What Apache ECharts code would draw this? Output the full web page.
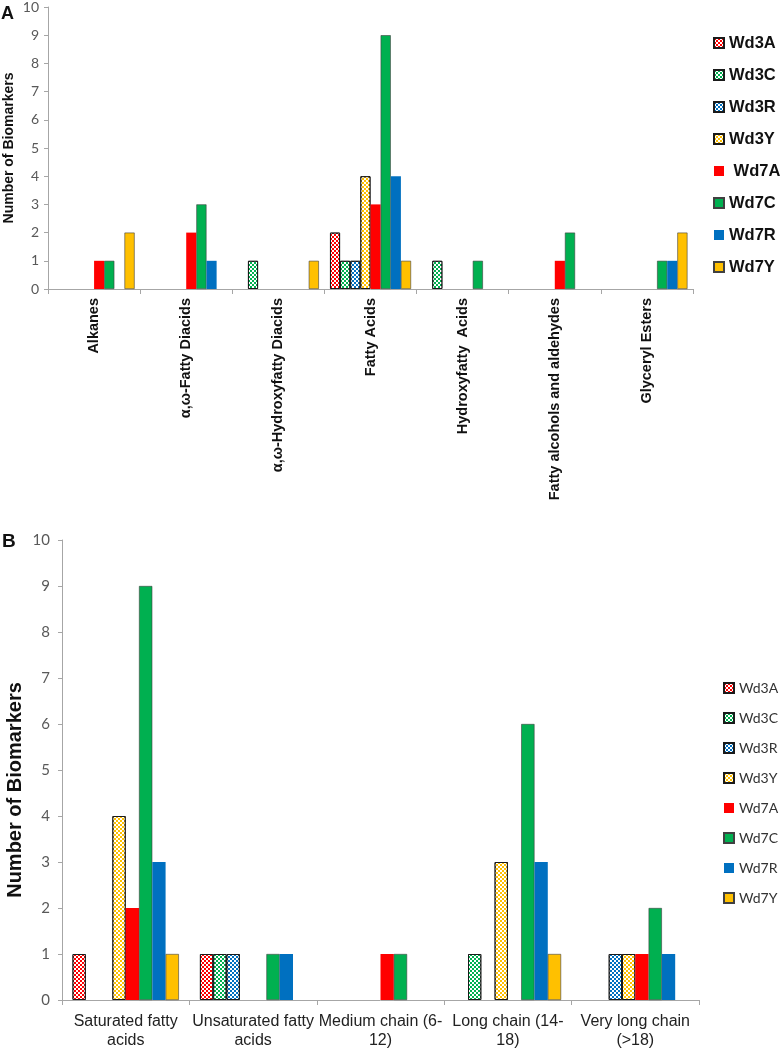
<!DOCTYPE html>
<html>
<head>
<meta charset="utf-8">
<script src="https://cdn.jsdelivr.net/npm/echarts@6/dist/echarts.min.js"></script>
<style>
html,body{margin:0;padding:0;background:#fff;}
#c{width:782px;height:1050px;}
</style>
</head>
<body>
<div id="c"></div>
<script>
// ---- data ----
const seriesNames = ['Wd3A','Wd3C','Wd3R','Wd3Y','Wd7A','Wd7C','Wd7R','Wd7Y'];
const legendLabelsA = ['Wd3A','Wd3C','Wd3R','Wd3Y',' Wd7A','Wd7C','Wd7R','Wd7Y'];
const legendLabelsB = ['Wd3A','Wd3C','Wd3R','Wd3Y','Wd7A','Wd7C','Wd7R','Wd7Y'];
const categoriesA = ['Alkanes','α,ω-Fatty Diacids','α,ω-Hydroxyfatty Diacids','Fatty Acids','Hydroxyfatty  Acids','Fatty alcohols and aldehydes','Glyceryl Esters'];
const categoriesB = ['Saturated fatty\nacids','Unsaturated fatty\nacids','Medium chain (6-\n12)','Long chain (14-\n18)','Very long chain\n(>18)'];
const yTicks = [0,1,2,3,4,5,6,7,8,9,10];

const valuesA_Wd3A = [0,0,0,2,0,0,0];
const valuesA_Wd3C = [0,0,1,1,1,0,0];
const valuesA_Wd3R = [0,0,0,1,0,0,0];
const valuesA_Wd3Y = [0,0,0,4,0,0,0];
const valuesA_Wd7A = [1,2,0,3,0,1,0];
const valuesA_Wd7C = [1,3,0,9,1,2,1];
const valuesA_Wd7R = [0,1,0,4,0,0,1];
const valuesA_Wd7Y = [2,0,1,1,0,0,2];

const valuesB_Wd3A = [1,1,0,0,0];
const valuesB_Wd3C = [0,1,0,1,0];
const valuesB_Wd3R = [0,1,0,0,1];
const valuesB_Wd3Y = [4,0,0,3,1];
const valuesB_Wd7A = [2,0,1,0,1];
const valuesB_Wd7C = [9,1,1,6,2];
const valuesB_Wd7R = [3,1,0,3,1];
const valuesB_Wd7Y = [1,0,0,1,0];

const valuesA = [valuesA_Wd3A,valuesA_Wd3C,valuesA_Wd3R,valuesA_Wd3Y,valuesA_Wd7A,valuesA_Wd7C,valuesA_Wd7R,valuesA_Wd7Y];
const valuesB = [valuesB_Wd3A,valuesB_Wd3C,valuesB_Wd3R,valuesB_Wd3Y,valuesB_Wd7A,valuesB_Wd7C,valuesB_Wd7R,valuesB_Wd7Y];

// ---- styles ----
const colors = ['#FF0000','#00B050','#0070C0','#FFC000','#FF0000','#00B050','#0070C0','#FFC000'];
const checkered = [true,true,true,true,false,false,false,false];
const checkDecal = {symbol:'rect', symbolSize:1, color:'#ffffff', dashArrayX:[[2,2],[0,2,2,0]], dashArrayY:[2,0]};
const plainBorderA = [null,null,null,null,0,0.6,0,0.6];
const plainBorderB = [null,null,null,null,0,0.6,0,0.6];

function itemStyleFor(i, plainBorder){
  if (checkered[i]) {
    return {color: colors[i], borderColor:'#1a1a1a', borderWidth:1, decal: checkDecal};
  }
  return {color: colors[i], borderColor:'#404040', borderWidth: plainBorder[i]};
}

const series = [];
seriesNames.forEach((n,i)=>{
  series.push({
    name: 'A:' + legendLabelsA[i], type:'bar', xAxisIndex:0, yAxisIndex:0,
    data: valuesA[i].map(v => v === 0 ? null : v),
    barGap: '0%', barCategoryGap: '12%',
    itemStyle: itemStyleFor(i, plainBorderA),
    emphasis:{disabled:true}
  });
});
seriesNames.forEach((n,i)=>{
  series.push({
    name: 'B:' + legendLabelsB[i], type:'bar', xAxisIndex:1, yAxisIndex:1,
    data: valuesB[i].map(v => v === 0 ? null : v),
    barGap: '0%', barCategoryGap: '16.5%',
    itemStyle: itemStyleFor(i, plainBorderB),
    emphasis:{disabled:true}
  });
});

const axisLineStyle = {lineStyle:{color:'#a6a6a6', width:1}};

const option = {
  animation: false,
  backgroundColor: '#ffffff',
  aria: {enabled: true, decal: {show: false}},
  grid: [
    {left:48, top:6, width:645, height:283},
    {left:62, top:540, width:637, height:462}
  ],
  xAxis: [
    {type:'category', gridIndex:0, data: categoriesA,
     axisLine: axisLineStyle, axisTick:{show:true, length:5, lineStyle:{color:'#a6a6a6'}},
     axisLabel:{interval:0, rotate:90, margin:9, fontFamily:'Liberation Sans, Arial', fontWeight:'bold', fontSize:14.5, color:'#111'}},
    {type:'category', gridIndex:1, data: categoriesB,
     axisLine: axisLineStyle, axisTick:{show:true, length:5, lineStyle:{color:'#a6a6a6'}},
     axisLabel:{interval:0, margin:12, fontFamily:'Liberation Sans, Arial', fontSize:16, lineHeight:19, color:'#222'}}
  ],
  yAxis: [
    {type:'value', gridIndex:0, min:yTicks[0], max:yTicks[yTicks.length-1], interval:1,
     axisLine:{show:true, lineStyle:{color:'#a6a6a6'}}, axisTick:{show:true, length:4, lineStyle:{color:'#a6a6a6'}},
     splitLine:{show:false},
     axisLabel:{margin:9, fontFamily:'Lato', fontSize:14, color:'#595959'}},
    {type:'value', gridIndex:1, min:yTicks[0], max:yTicks[yTicks.length-1], interval:1,
     axisLine:{show:true, lineStyle:{color:'#a6a6a6'}}, axisTick:{show:true, length:4, lineStyle:{color:'#a6a6a6'}},
     splitLine:{show:false},
     axisLabel:{margin:12, fontFamily:'Lato', fontSize:15, color:'#595959'}}
  ],
  legend: [
    {orient:'vertical', left:708, top:29, itemWidth:10, itemHeight:10, itemGap:14,
     icon:'rect', selectedMode:false,
     data: legendLabelsA.map(s => 'A:' + s),
     formatter: n => n.slice(2),
     textStyle:{fontFamily:'Liberation Sans, Arial', fontWeight:'bold', fontSize:16.5, lineHeight:18, color:'#111'}},
    {orient:'vertical', left:718, top:675, itemWidth:10, itemHeight:10, itemGap:14,
     icon:'rect', selectedMode:false,
     data: legendLabelsB.map(s => 'B:' + s),
     formatter: n => n.slice(2),
     textStyle:{fontFamily:'Lato', fontSize:14, lineHeight:16, color:'#333'}}
  ],
  graphic: [
    {type:'text', left:1, top:5, style:{text:'A', font:'bold 18px "Liberation Sans", Arial', fill:'#111'}},
    {type:'text', left:2, top:532, style:{text:'B', font:'bold 19px "Liberation Sans", Arial', fill:'#111'}},
    {type:'text', x:9, y:148, rotation:Math.PI/2,
     style:{text:'Number of Biomarkers', font:'bold 14px "Liberation Sans", Arial', fill:'#111', textAlign:'center', textVerticalAlign:'middle'}},
    {type:'text', x:15, y:790, rotation:Math.PI/2,
     style:{text:'Number of Biomarkers', font:'bold 20px "Liberation Sans", Arial', fill:'#111', textAlign:'center', textVerticalAlign:'middle'}}
  ],
  series: series
};

const chart = echarts.init(document.getElementById('c'), null, {renderer:'canvas'});
chart.setOption(option);
</script>
</body>
</html>
